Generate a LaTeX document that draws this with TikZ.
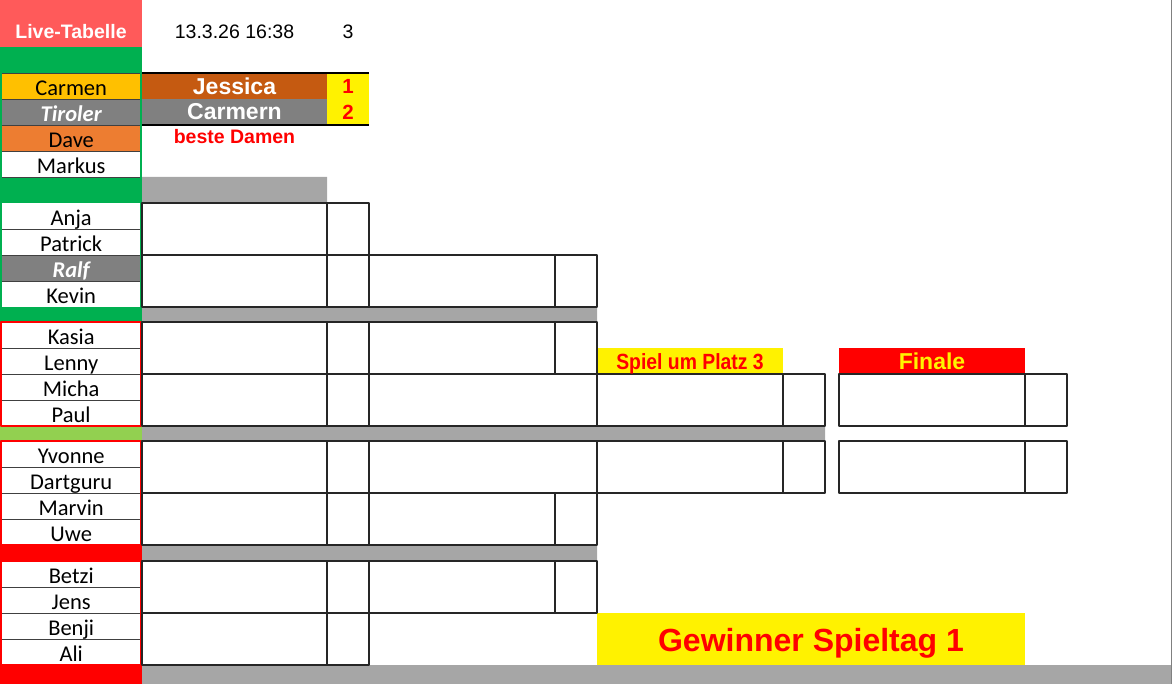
\documentclass[tikz,border=0pt]{standalone}
\usepackage{fontspec}
\setmainfont{Liberation Sans}
\newfontfamily\namefont{Carlito}
\newfontfamily\narrowfont[FakeStretch=0.88]{Liberation Sans}
\definecolor{livered}{RGB}{255,90,90}
\definecolor{xlgreen}{RGB}{0,176,80}
\definecolor{xllime}{RGB}{146,208,80}
\definecolor{xlgold}{RGB}{255,192,0}
\definecolor{xlorange}{RGB}{237,125,49}
\definecolor{xlbrown}{RGB}{197,90,17}
\definecolor{xlgrey}{RGB}{128,128,128}
\definecolor{bandgrey}{RGB}{166,166,166}
\begin{document}
\begin{tikzpicture}[x=1pt,y=-1pt,line join=round,
	namecell/.style={anchor=north west,minimum width=138pt,minimum height=26pt,inner sep=0pt,text height=18pt,text depth=0pt,font=\namefont\fontsize{22.5}{26}\selectfont},
	goldcell/.style={fill=xlgold},
	orangecell/.style={fill=xlorange},
	whitecell/.style={fill=white},
	greycell/.style={fill=xlgrey,text=white,font=\namefont\bfseries\itshape\fontsize{22.5}{26}\selectfont},
	txt/.style={anchor=base,inner sep=0pt,font=\bfseries\fontsize{19.5}{22}\selectfont},
	rowline/.style={draw=black!75,line width=0.9pt},
	cellbox/.style={draw=black!85,line width=1.1pt}]
	\useasboundingbox (0,0) rectangle (1172,684);
	% header row
	\fill[livered] (0,0) rectangle (142,47);
	\node[txt,text=white] (live) at (71,39) {Live-Tabelle};
	\node[txt,font=\fontsize{19.5}{22}\selectfont] (stamp) at (234.5,39) {13.3.26 16:38};
	\node[txt,font=\fontsize{19.5}{22}\selectfont] (round) at (348,39) {3};
	% left column
	\fill[xlgreen] (0,47) rectangle (142,322);
	\fill[white] (0,322) rectangle (142,665);
	\fill[xllime] (0,426) rectangle (142,441);
	\fill[red] (0,545) rectangle (142,561) (0,665) rectangle (142,684);
	\foreach \nm/\y/\sty [count=\i] in {Carmen/73/goldcell,Tiroler/99/greycell,Dave/125/orangecell,Markus/151/whitecell,
		Anja/203/whitecell,Patrick/229/whitecell,Ralf/255/greycell,Kevin/281/whitecell,
		Kasia/322/whitecell,Lenny/348/whitecell,Micha/374/whitecell,Paul/400/whitecell,
		Yvonne/441/whitecell,Dartguru/467/whitecell,Marvin/493/whitecell,Uwe/519/whitecell,
		Betzi/561/whitecell,Jens/587/whitecell,Benji/613/whitecell,Ali/639/whitecell}
		\node[namecell,\sty] (n\i) at (2,\y) {\nm};
	\foreach \i in {1,...,20}
		\draw[rowline] (n\i.south west) -- (n\i.south east);
	\draw[rowline] (n1.north west) -- (n1.north east);
	\draw[xlgreen,line width=1.5pt] (n8.south west) -- (n8.south east);
	\foreach \t/\b in {322/426,441/545,561/665}
		\draw[red,line width=2.5pt] (1.2,\t) rectangle (141,\b);
	% best ladies
	\fill[xlbrown] (142,73) rectangle (327,99);
	\fill[xlgrey] (142,99) rectangle (327,125);
	\fill[yellow] (327,73) rectangle (369,125);
	\draw[line width=2pt] (142,73) -- (369,73) (142,125) -- (369,125);
	\node[txt,text=white,font=\bfseries\fontsize{23}{26}\selectfont] (jessica) at (234.5,94.5) {Jessica};
	\node[txt,text=white,font=\bfseries\fontsize{23}{26}\selectfont] (carmern) at (234.5,120) {Carmern};
	\node[txt,text=red,font=\bfseries\fontsize{20.5}{24}\selectfont] (first) at (348,94) {1};
	\node[txt,text=red,font=\bfseries\fontsize{20.5}{24}\selectfont] (second) at (348,120) {2};
	\node[txt,text=red] (damen) at (234.5,144) {beste Damen};
	% grey bands
	\fill[bandgrey] (142,177) rectangle (327,203) (142,307) rectangle (597,322) (142,426) rectangle (825,441)
		(142,545) rectangle (597,561) (142,665) rectangle (1172,684);
	% headers
	\fill[yellow] (597,348) rectangle (783,374);
	\fill[red] (839,348) rectangle (1025,374);
	\fill[yellow] (597,613) rectangle (1025,665);
	% bracket
	\foreach \y in {203,255,322,374,441,493,561,613}
		\draw[cellbox] (142,\y) rectangle (369,\y+52) (327,\y) -- (327,\y+52);
	\foreach \y in {255,322,493,561}
		\draw[cellbox] (369,\y) rectangle (597,\y+52) (555,\y) -- (555,\y+52);
	\foreach \y in {374,441}
		\draw[cellbox] (369,\y) rectangle (597,\y+52)
			(597,\y) rectangle (825,\y+52) (783,\y) -- (783,\y+52)
			(839,\y) rectangle (1067,\y+52) (1025,\y) -- (1025,\y+52);
	\node[txt,text=red,font=\narrowfont\bfseries\fontsize{22}{24}\selectfont] (platz) at (690,369) {Spiel um Platz 3};
	\node[txt,text=yellow,font=\bfseries\fontsize{23}{26}\selectfont] (finale) at (932,370) {Finale};
	\node[txt,text=red,font=\bfseries\fontsize{32}{36}\selectfont] (winner) at (811,651) {Gewinner Spieltag 1};
	\draw[xlgrey,line width=1.5pt] (1171.25,0) -- (1171.25,684);
\end{tikzpicture}
\end{document}
